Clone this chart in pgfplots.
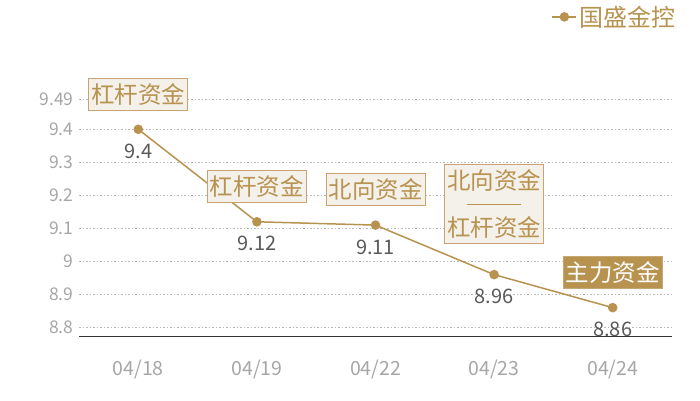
\documentclass[border=0pt]{standalone}
\usepackage{pgfplots}
\pgfplotsset{compat=1.18}
\usepackage{fontspec}
\setmainfont{Noto Sans CJK SC}
\definecolor{gold}{HTML}{B8924F}
\definecolor{boxfill}{HTML}{F4F0EA}
\definecolor{boxdraw}{HTML}{C9A470}
\definecolor{ticklab}{HTML}{A6A6A6}
\definecolor{datalab}{HTML}{595959}
\tikzset{box/.style={draw=boxdraw, fill=boxfill, text=gold, line width=1pt,
    font=\fontsize{23.5}{23.5}\selectfont, inner xsep=2.5pt, inner ysep=5pt}}
\begin{document}
\begin{tikzpicture}[x=1pt,y=1pt]
\useasboundingbox (0,0) rectangle (700,400);
\begin{axis}[
  at={(79pt,63.3pt)}, anchor=south west,
  scale only axis, width=593pt, height=256.9pt,
  xmin=-0.5, xmax=4.5, ymin=8.772, ymax=9.55,
  clip=false,
  axis line style={draw=none},
  /pgf/number format/assume math mode=true,
  xtick={0,1,2,3,4},
  xticklabels={04/18,04/19,04/22,04/23,04/24},
  ytick={8.8,8.9,9.0,9.1,9.2,9.3,9.4,9.49},
  yticklabels={8.8,8.9,9,9.1,9.2,9.3,9.4,9.49},
  major tick length=0pt,
  ymajorgrids,
  grid style={dash pattern=on 1.5pt off 2pt, line width=0.7pt, black!28},
  yticklabel style={font=\fontsize{17.5}{18}\selectfont, text=ticklab, xshift=-2pt},
  xticklabel style={font=\fontsize{19.5}{20}\selectfont, text=ticklab, yshift=-20pt},
  legend style={draw=none, fill=none, font=\fontsize{24}{24}\selectfont, text=gold,
    at={(1.014,1.245)}, anchor=east, legend cell align=left},
  legend image code/.code={\draw[mark repeat=2,mark phase=2,#1] plot coordinates {(0pt,0pt) (12pt,0pt) (24pt,0pt)};},
]
\addplot[gold, line width=1.5pt, mark=*, mark size=4pt,
  nodes near coords, point meta=explicit symbolic,
  every node near coord/.append style={anchor=center, yshift=-22pt,
    font=\fontsize{20}{20}\selectfont, text=datalab}]
  table[meta=lab]{
x y lab
0 9.40 9.4
1 9.12 9.12
2 9.11 9.11
3 8.96 8.96
4 8.86 8.86
};
\addlegendentry{国盛金控}
\draw[black!80, line width=0.8pt] (rel axis cs:0,0) -- (rel axis cs:1,0);
\node[box] at (axis cs:0,9.5055) {杠杆资金};
\node[box] at (axis cs:1,9.2267) {杠杆资金};
\node[box] at (axis cs:2,9.2176) {北向资金};
\node[box, align=center] at (axis cs:3,9.1736) {北向资金\\\rule[8pt]{54pt}{1.2pt}\\杠杆资金};
\node[box, draw=gold!80!white, fill=gold, text=white] at (axis cs:4,8.9676) {主力资金};
\end{axis}
\end{tikzpicture}
\end{document}
